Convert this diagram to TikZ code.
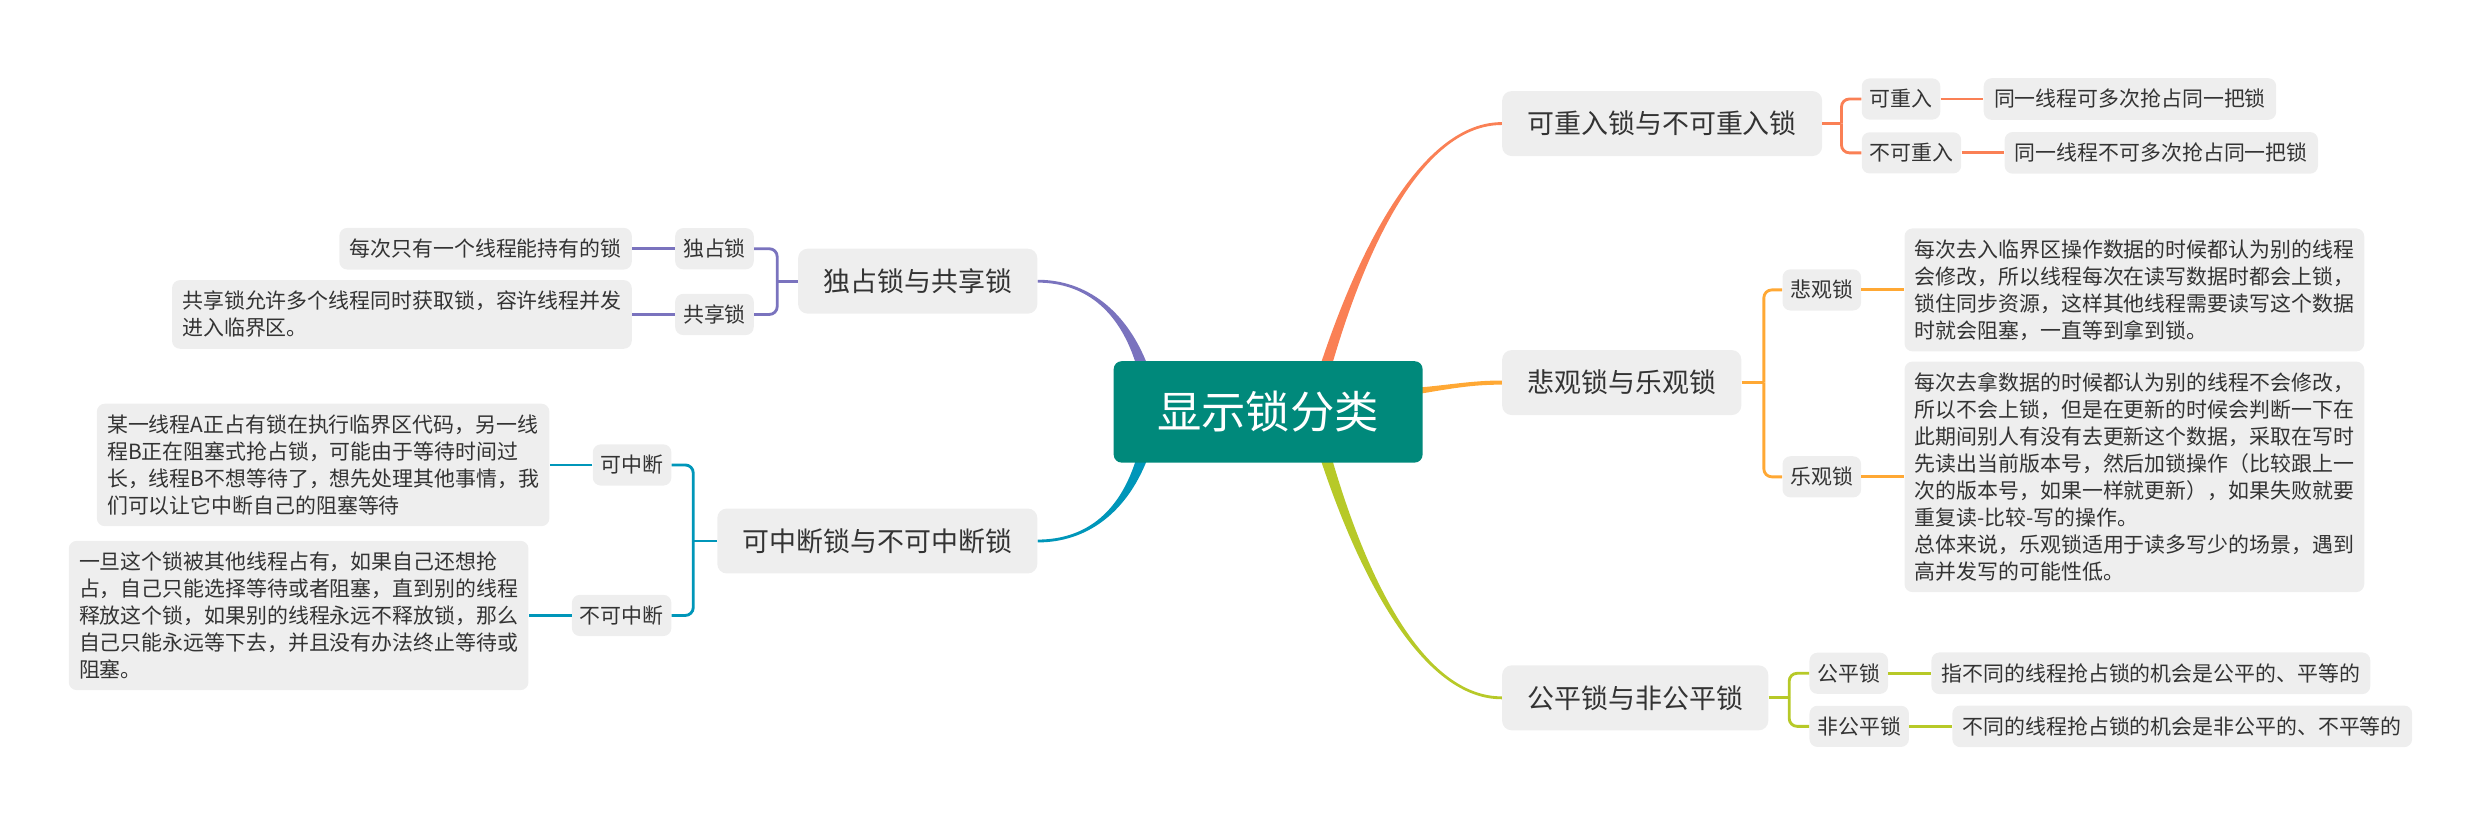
\documentclass[tikz,border=0pt]{standalone}
\usepackage{fontspec}
\setmainfont{Noto Sans CJK SC}
\usepackage{tikz}
\usetikzlibrary{backgrounds,positioning,calc}
\definecolor{rootc}{RGB}{0,137,123}
\definecolor{boxc}{RGB}{238,238,238}
\definecolor{txtc}{RGB}{51,51,51}
\definecolor{coralc}{RGB}{250,128,85}
\definecolor{amberc}{RGB}{255,168,52}
\definecolor{limec}{RGB}{183,201,40}
\definecolor{violc}{RGB}{122,115,190}
\definecolor{cyanc}{RGB}{0,150,185}
\tikzset{
  rootbox/.style={fill=rootc,text=white,rounded corners=5pt,minimum width=195pt,minimum height=64pt,font=\fontsize{28}{32}\selectfont},
  topic/.style={fill=boxc,text=txtc,rounded corners=6pt,inner xsep=16pt,minimum height=41pt,font=\fontsize{17}{20}\selectfont},
  subtopic/.style={fill=boxc,text=txtc,rounded corners=5pt,inner xsep=5pt,inner ysep=0pt,minimum height=26pt,font=\fontsize{13.2}{17}\selectfont},
  leaf/.style={fill=boxc,text=txtc,rounded corners=5pt,inner xsep=6.5pt,inner ysep=7pt,minimum height=26pt,align=left,font=\fontsize{13.2}{17}\selectfont},
  twig/.style={line width=1.8pt},
}
% tapered branch: colour, from, to, control offset at from, control offset at to,
% half width at from, half width at to
\newcommand{\taper}[7]{%
  \fill[#1] ($(#2)+(#6)$) .. controls ($(#2)+(#4)+0.5*(#6)$) and ($(#3)+(#5)+(#7)$) .. ($(#3)+(#7)$)
    -- ($(#3)-(#7)$) .. controls ($(#3)+(#5)-(#7)$) and ($(#2)+(#4)-0.5*(#6)$) .. ($(#2)-(#6)$) -- cycle;}

\begin{document}
\begin{tikzpicture}[x=1pt,y=-1pt]
\useasboundingbox (0,0) rectangle (1568,519);
% root
\node[rootbox] (root) at (800.5,260) {显示锁分类};
% first level, right
\node[topic,anchor=west] (reent) at (948,78) {可重入锁与不可重入锁};
\node[topic,anchor=west] (pess) at (948,241.5) {悲观锁与乐观锁};
\node[topic,anchor=west] (fair) at (948,440.5) {公平锁与非公平锁};
% first level, left
\node[topic,anchor=east] (excl) at (655,177.5) {独占锁与共享锁};
\node[topic,anchor=east] (intr) at (655,341.5) {可中断锁与不可中断锁};

% reentrant
\node[subtopic,anchor=west] (reentY) at (1175,62.5) {可重入};
\node[subtopic,anchor=west] (reentN) at (1175,96.5) {不可重入};
\node[leaf,right=27pt of reentY] (reentYd) {同一线程可多次抢占同一把锁};
\node[leaf,right=27pt of reentN] (reentNd) {同一线程不可多次抢占同一把锁};

% pessimistic / optimistic
\node[subtopic,anchor=west] (pessL) at (1125,183) {悲观锁};
\node[subtopic,anchor=west] (optiL) at (1125,301) {乐观锁};
\node[leaf,right=27pt of pessL] (pessLd) {每次去入临界区操作数据的时候都认为别的线程\\会修改，所以线程每次在读写数据时都会上锁，\\锁住同步资源，这样其他线程需要读写这个数据\\时就会阻塞，一直等到拿到锁。};
\node[leaf,right=27pt of optiL] (optiLd) {每次去拿数据的时候都认为别的线程不会修改，\\所以不会上锁，但是在更新的时候会判断一下在\\此期间别人有没有去更新这个数据，采取在写时\\先读出当前版本号，然后加锁操作（比较跟上一\\次的版本号，如果一样就更新），如果失败就要\\重复读-比较-写的操作。\\总体来说，乐观锁适用于读多写少的场景，遇到\\高并发写的可能性低。};

% fair
\node[subtopic,anchor=west] (fairY) at (1142,425) {公平锁};
\node[subtopic,anchor=west] (fairN) at (1142,458.5) {非公平锁};
\node[leaf,right=27pt of fairY] (fairYd) {指不同的线程抢占锁的机会是公平的、平等的};
\node[leaf,right=27pt of fairN] (fairNd) {不同的线程抢占锁的机会是非公平的、不平等的};

% exclusive / shared
\node[subtopic,anchor=east] (exclY) at (476,157) {独占锁};
\node[subtopic,anchor=east] (exclN) at (476,198.5) {共享锁};
\node[leaf,left=27pt of exclY] (exclYd) {每次只有一个线程能持有的锁};
\node[leaf,left=27pt of exclN] (exclNd) {共享锁允许多个线程同时获取锁，容许线程并发\\进入临界区。};

% interruptible
\node[subtopic,anchor=east] (intrY) at (424,293.5) {可中断};
\node[subtopic,anchor=east] (intrN) at (424,388.5) {不可中断};
\node[leaf,left=27pt of intrY] (intrYd) {某一线程A正占有锁在执行临界区代码，另一线\\程B正在阻塞式抢占锁，可能由于等待时间过\\长，线程B不想等待了，想先处理其他事情，我\\们可以让它中断自己的阻塞等待};
\node[leaf,left=27pt of intrN] (intrNd) {一旦这个锁被其他线程占有，如果自己还想抢\\占，自己只能选择等待或者阻塞，直到别的线程\\释放这个锁，如果别的线程永远不释放锁，那么\\自己只能永远等下去，并且没有办法终止等待或\\阻塞。};

% main branches
\coordinate (rootNE) at ([xshift=35pt,yshift=-8pt]root.north);
\coordinate (rootE) at ([xshift=-8pt,yshift=-19.5pt]root.north east);
\coordinate (rootSE) at ([xshift=35pt,yshift=8pt]root.south);
\coordinate (rootNW) at ([xshift=-78pt,yshift=-8pt]root.north);
\coordinate (rootSW) at ([xshift=-78pt,yshift=8pt]root.south);
\begin{scope}[on background layer]
\taper{coralc}{rootNE}{reent.west}{26,-86}{-48,0}{3.45,1.04}{0,0.9}
\taper{amberc}{rootE}{pess.west}{25,-3}{-20,0}{0.4,2.2}{0,1.3}
\taper{limec}{rootSE}{fair.west}{26,86}{-48,0}{3.45,-1.04}{0,-0.9}
\taper{violc}{rootNW}{excl.east}{-12,-40}{30,0}{-3.45,1.04}{0,0.9}
\taper{cyanc}{rootSW}{intr.east}{-12,40}{30,0}{-3.45,-1.04}{0,-0.9}
\end{scope}

% brackets
\draw[twig,coralc] (reent.east) -- ++(12,0) coordinate (reentB);
\draw[twig,coralc,rounded corners=5pt] (reentB) |- (reentY.west);
\draw[twig,coralc,rounded corners=5pt] (reentB) |- (reentN.west);
\draw[twig,coralc] (reentY.east) -- (reentYd.west);
\draw[twig,coralc] (reentN.east) -- (reentNd.west);

\draw[twig,amberc] (pess.east) -- ++(14,0) coordinate (pessB);
\draw[twig,amberc,rounded corners=5pt] (pessB) |- (pessL.west);
\draw[twig,amberc,rounded corners=5pt] (pessB) |- (optiL.west);
\draw[twig,amberc] (pessL.east) -- (pessLd.west);
\draw[twig,amberc] (optiL.east) -- (optiLd.west);

\draw[twig,limec] (fair.east) -- ++(13,0) coordinate (fairB);
\draw[twig,limec,rounded corners=5pt] (fairB) |- (fairY.west);
\draw[twig,limec,rounded corners=5pt] (fairB) |- (fairN.west);
\draw[twig,limec] (fairY.east) -- (fairYd.west);
\draw[twig,limec] (fairN.east) -- (fairNd.west);

\draw[twig,violc] (excl.west) -- ++(-13,0) coordinate (exclB);
\draw[twig,violc,rounded corners=5pt] (exclB) |- (exclY.east);
\draw[twig,violc,rounded corners=5pt] (exclB) |- (exclN.east);
\draw[twig,violc] (exclY.west) -- (exclYd.east);
\draw[twig,violc] (exclN.west) -- (exclNd.east);

\draw[twig,cyanc] (intr.west) -- ++(-15,0) coordinate (intrB);
\draw[twig,cyanc,rounded corners=5pt] (intrB) |- (intrY.east);
\draw[twig,cyanc,rounded corners=5pt] (intrB) |- (intrN.east);
\draw[twig,cyanc] (intrY.west) -- (intrYd.east);
\draw[twig,cyanc] (intrN.west) -- (intrNd.east);
\end{tikzpicture}
\end{document}
